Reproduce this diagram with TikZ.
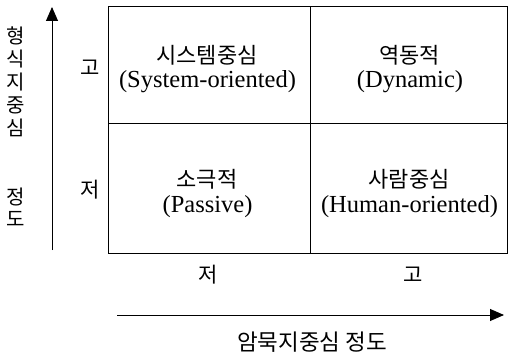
\documentclass[tikz,border=0pt]{standalone}
\usepackage{fontspec}
\setmainfont{Liberation Serif}
\newfontfamily\kr{Noto Sans CJK KR}
\usetikzlibrary{arrows.meta}
\tikzset{
  cell/.style={draw=black, line width=0.9pt, inner sep=0pt},
  entxt/.style={inner sep=0pt, font=\fontsize{24.5}{30}\selectfont},
  krtxt/.style={inner sep=0pt, font=\kr\fontsize{22}{26}\selectfont},
  krlab/.style={inner sep=0pt, font=\kr\fontsize{21}{24}\selectfont},
  axis/.style={line width=0.9pt, -{Triangle[length=14pt,width=12pt]}}
}
\begin{document}
\begin{tikzpicture}[x=1pt,y=-1pt]
\useasboundingbox (0,0) rectangle (508,358);
\node[cell, minimum width=202pt, minimum height=117pt] (sys) at (209,64.5) {};
\node[cell, minimum width=197pt, minimum height=117pt] (dyn) at (408.5,64.5) {};
\node[cell, minimum width=202pt, minimum height=130pt] (pas) at (209,188) {};
\node[cell, minimum width=197pt, minimum height=130pt] (hum) at (408.5,188) {};
\node[krtxt] (syskr) at (207,55) {시스템중심};
\node[entxt] (sysen) at (207.5,82) {(System-oriented)};
\node[krtxt] (dynkr) at (409.5,55) {역동적};
\node[entxt] (dynen) at (410,82) {(Dynamic)};
\node[krtxt] (paskr) at (207,179) {소극적};
\node[entxt] (pasen) at (207.5,207) {(Passive)};
\node[krtxt] (humkr) at (409,179) {사람중심};
\node[entxt] (humen) at (409.5,207) {(Human-oriented)};
\coordinate (vbot) at (52,250);
\coordinate (vtop) at (52,7);
\draw[axis] (vbot) -- (vtop);
\coordinate (hl) at (117,315);
\coordinate (hr) at (504,315);
\draw[axis] (hl) -- (hr);
\node[krlab] (yhi) at (90,68) {고};
\node[krlab] (ylo) at (90,190) {저};
\node[krlab] (xlo) at (208,275) {저};
\node[krlab] (xhi) at (413,275) {고};
\foreach \c/\y [count=\i] in {형/36, 식/59, 지/82, 중/105, 심/128, 정/197, 도/219}
  \node[krlab, font=\kr\fontsize{20}{24}\selectfont] (yt\i) at (16,\y) {\c};
\node[krlab, font=\kr\fontsize{22.5}{26}\selectfont] (xtitle) at (312,342) {암묵지중심 정도};
\end{tikzpicture}
\end{document}
